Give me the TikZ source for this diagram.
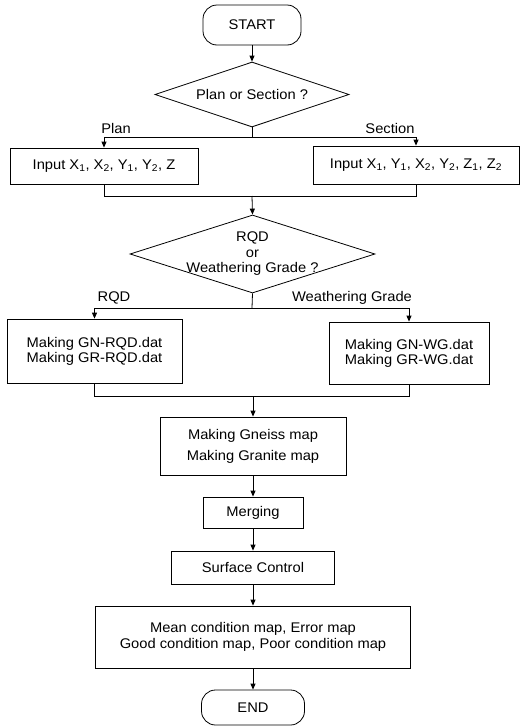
\documentclass[tikz,border=0pt]{standalone}
\usepackage{fontspec}
\setmainfont{Liberation Sans}[FakeStretch=1.05]
\usetikzlibrary{shapes.geometric,arrows.meta}
\begin{document}
\begin{tikzpicture}[x=1pt,y=-1pt,
  every node/.style={font=\fontsize{14}{16}\selectfont},
  box/.style={draw, line width=0.8pt, inner sep=0pt, align=center},
  term/.style={box, rounded corners=14pt},
  dia/.style={draw, line width=0.8pt, diamond, inner sep=0pt},
  line/.style={line width=0.8pt},
  arr/.style={line, -{Triangle[length=6pt,width=5pt]}},
  lbl/.style={inner sep=0pt, align=center}]
\useasboundingbox[fill=white] (0,0) rectangle (520,726);
% nodes
\node[term, minimum width=98pt, minimum height=40pt] (start) at (252,25) {START};
\node[dia, minimum width=194pt, minimum height=65pt] (d1) at (252,94.5) {};
\node[lbl] (d1t) at (d1) {Plan or Section ?};
\coordinate (j1) at (252,137);
\node[box, minimum width=188pt, minimum height=36pt] (in1) at (104,166)
  {Input X\textsubscript{1}, X\textsubscript{2}, Y\textsubscript{1}, Y\textsubscript{2}, Z};
\node[box, minimum width=206pt, minimum height=38pt] (in2) at (416,165)
  {Input X\textsubscript{1}, Y\textsubscript{1}, X\textsubscript{2}, Y\textsubscript{2}, Z\textsubscript{1}, Z\textsubscript{2}};
\node[lbl] (lplan) at (116,128) {Plan};
\node[lbl] (lsec) at (390,128) {Section};
\coordinate (m1) at (252,196);
\node[dia, minimum width=245pt, minimum height=78pt] (d2) at (252.5,254) {};
\node[lbl, font=\fontsize{14}{15.5}\selectfont] (d2t) at (d2) {RQD\\or\\Weathering Grade ?};
\coordinate (j2) at (252,308);
\node[lbl] (lrqd) at (114,298) {RQD};
\node[lbl] (lwg) at (352,298) {Weathering Grade};
\node[box, minimum width=175pt, minimum height=64pt, font=\fontsize{14}{15}\selectfont] (g1) at (94.5,351)
  {Making GN-RQD.dat\\Making GR-RQD.dat};
\node[box, minimum width=160pt, minimum height=62pt, font=\fontsize{14}{15}\selectfont] (g2) at (409,353)
  {Making GN-WG.dat\\Making GR-WG.dat};
\coordinate (m2) at (253,396);
\node[box, minimum width=186pt, minimum height=58pt, font=\fontsize{14}{21}\selectfont] (maps) at (253,446)
  {Making Gneiss map\\Making Granite map};
\node[box, minimum width=100pt, minimum height=31pt] (merg) at (253,512.5) {Merging};
\node[box, minimum width=163pt, minimum height=33pt] (surf) at (253,567.5) {Surface Control};
\node[box, minimum width=315pt, minimum height=62pt] (mean) at (253,637)
  {Mean condition map, Error map\\Good condition map, Poor condition map};
\node[term, minimum width=103pt, minimum height=35pt] (end) at (253,707.5) {END};
% connectors
\draw[arr] (start.south) -- (d1.north);
\draw[line] (d1.south) -- (j1);
\draw[arr] (j1) -| (in1.north);
\draw[arr] (j1) -| (in2.north);
\draw[line] (in1.south) |- (m1);
\draw[line] (m1) -| (in2.south);
\draw[arr] (m1) -- (d2.north);
\draw[line] (d2.south) -- (j2);
\draw[arr] (j2) -| (g1.north);
\draw[arr] (j2) -| (g2.north);
\draw[line] (g1.south) |- (m2);
\draw[line] (m2) -| (g2.south);
\draw[arr] (m2) -- (maps.north);
\draw[arr] (maps.south) -- (merg.north);
\draw[arr] (merg.south) -- (surf.north);
\draw[arr] (surf.south) -- (mean.north);
\draw[arr] (mean.south) -- (end.north);
\end{tikzpicture}
\end{document}
